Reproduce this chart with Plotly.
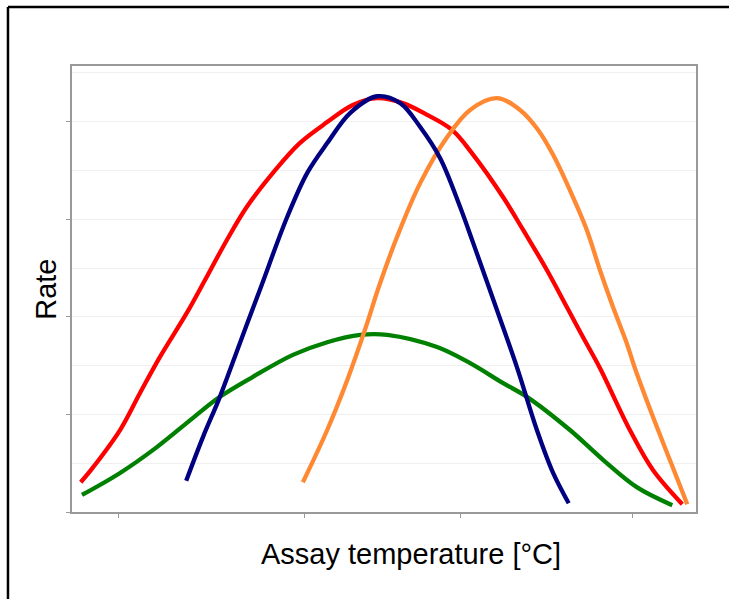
import plotly.graph_objects as go

# Assay temperature (arbitrary units, 0-100 across the axis) and rate (grid units)
red_x = [1.4, 3.4, 7.7, 10.9, 14.1, 18.4, 21.3, 24.8, 28.0, 32.2, 36.5, 40.9, 45.0, 48.9,
         53.0, 56.9, 60.9, 64.3, 69.1, 72.3, 76.1, 79.3, 81.9, 84.6, 89.4, 93.1, 97.8]
red_y = [0.61, 0.92, 1.68, 2.44, 3.18, 4.08, 4.75, 5.57, 6.25, 6.95, 7.56, 7.99, 8.34, 8.48,
         8.38, 8.14, 7.83, 7.32, 6.45, 5.78, 4.96, 4.20, 3.58, 2.95, 1.68, 0.86, 0.16]

blue_x = [18.3, 21.0, 23.7, 26.9, 30.1, 34.5, 37.7, 40.9, 44.6, 48.9, 52.6, 55.8, 59.0,
          62.2, 64.3, 68.1, 71.3, 74.5, 77.1, 79.6]
blue_y = [0.64, 1.54, 2.36, 3.46, 4.55, 6.05, 6.95, 7.56, 8.18, 8.52, 8.38, 7.89, 7.25,
          6.25, 5.51, 4.14, 2.97, 1.68, 0.80, 0.18]

orange_x = [37.0, 40.9, 44.1, 47.3, 49.0, 52.1, 55.8, 60.1, 63.8, 68.1, 71.8, 74.7, 77.1,
            80.3, 82.5, 84.6, 86.7, 88.9, 90.2, 93.1, 95.8, 98.6]
orange_y = [0.61, 1.68, 2.70, 3.87, 4.55, 5.64, 6.74, 7.68, 8.24, 8.48, 8.24, 7.83, 7.32,
            6.45, 5.78, 4.96, 4.20, 3.46, 2.95, 1.95, 1.07, 0.16]

green_x = [1.6, 7.7, 13.6, 19.4, 23.7, 29.0, 35.4, 40.9, 46.2, 50.5, 58.5, 63.8, 69.1,
           72.9, 79.8, 85.1, 90.5, 96.2]
green_y = [0.35, 0.80, 1.33, 1.93, 2.36, 2.77, 3.22, 3.48, 3.63, 3.63, 3.38, 3.05, 2.64,
           2.36, 1.68, 1.07, 0.51, 0.14]

x_ticks = [7.5, 37.3, 62.3, 89.9]
y_ticks = [0, 2, 4, 6, 8]

FONT = "Liberation Sans, Arial, sans-serif"

fig = go.Figure()
for xs, ys, col in [(green_x, green_y, "#008000"),
                    (red_x, red_y, "#ff0000"),
                    (orange_x, orange_y, "#ff8833"),
                    (blue_x, blue_y, "#000080")]:
    fig.add_trace(go.Scatter(x=xs, y=ys, mode="lines",
                             line=dict(color=col, width=4.3, shape="spline", smoothing=1.0),
                             showlegend=False, hoverinfo="skip"))

fig.update_layout(
    width=729, height=599,
    margin=dict(l=72, r=33, t=66, b=87),
    paper_bgcolor="white", plot_bgcolor="white",
    font=dict(family=FONT, color="black"),
    xaxis=dict(range=[0, 100], showgrid=False, zeroline=False,
               tickvals=x_ticks, showticklabels=False,
               ticks="outside", ticklen=4, tickcolor="#999999", tickwidth=1,
               showline=True, linecolor="#999999", linewidth=1.5, mirror=True),
    yaxis=dict(range=[0, 9.14], showgrid=True, gridcolor="#efefef", gridwidth=1,
               zeroline=False, tickvals=y_ticks, showticklabels=False,
               ticks="outside", ticklen=4, tickcolor="#999999", tickwidth=1,
               minor=dict(dtick=1, tick0=0, showgrid=True, gridcolor="#efefef", ticks=""),
               showline=True, linecolor="#999999", linewidth=1.5, mirror=True),
    annotations=[
        dict(text="Rate", xref="paper", yref="paper", x=-0.042, y=0.5,
             textangle=-90, showarrow=False, xanchor="center", yanchor="middle",
             font=dict(size=29, family=FONT, color="black")),
        dict(text="Assay temperature [°C]", xref="paper", yref="paper", x=0.543, y=-0.094,
             showarrow=False, xanchor="center", yanchor="middle",
             font=dict(size=29, family=FONT, color="black")),
    ],
    shapes=[
        dict(type="line", xref="paper", yref="paper", x0=-0.1026, x1=1.2, y0=1.1323, y1=1.1323,
             line=dict(color="black", width=2.5), layer="above"),
        dict(type="line", xref="paper", yref="paper", x0=-0.1026, x1=-0.1026, y0=1.1323, y1=-0.3,
             line=dict(color="black", width=2.5), layer="above"),
    ],
)

fig.write_html("out.html")
